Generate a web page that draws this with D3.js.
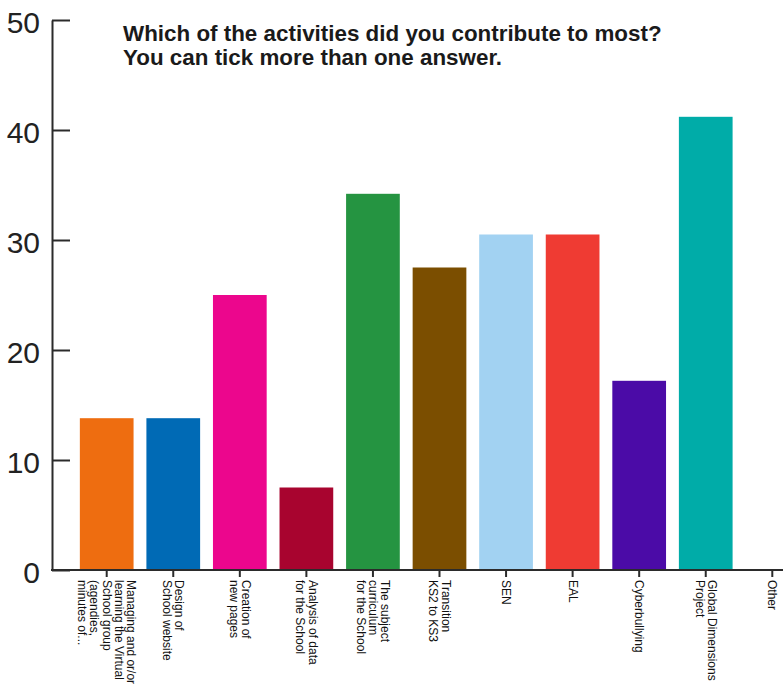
<!DOCTYPE html>
<html>
<head>
<meta charset="utf-8">
<script src="https://cdn.jsdelivr.net/npm/d3@7"></script>
<style>
    body { margin: 0; background: #fff; }
    svg { display: block; }
</style>
</head>
<body>
<div id="chart"></div>
<script>
// Categories, wrapped the way the labels are shown under the axis
var categories = [
    "Managing and or/or learning the Virtual School group (agendies, minutes of...",
    "Design of School website",
    "Creation of new pages",
    "Analysis of data for the School",
    "The subject curriculum for the School",
    "Transition KS2 to KS3",
    "SEN",
    "EAL",
    "Cyberbullying",
    "Global Dimensions Project",
    "Other"
];
var labelLines = [
    ["Managing and or/or", "learning the Virtual", "School group", "(agendies,", "minutes of..."],
    ["Design of", "School website"],
    ["Creation of", "new pages"],
    ["Analysis of data", "for the School"],
    ["The subject", "curriculum", "for the School"],
    ["Transition", "KS2 to KS3"],
    ["SEN"],
    ["EAL"],
    ["Cyberbullying"],
    ["Global Dimensions", "Project"],
    ["Other"]
];
var values = [13.8, 13.8, 25.0, 7.5, 34.2, 27.5, 30.5, 30.5, 17.2, 41.2, 0];
var barColors = ["#ee6d10", "#006ab5", "#ec068d", "#a8042f", "#259441", "#7b4e00",
                 "#a2d2f2", "#ef3b33", "#4b0ba7", "#00aca8", "#888888"];
var yTicks = [0, 10, 20, 30, 40, 50];
var titleLines = ["Which of the activities did you contribute to most?",
                  "You can tick more than one answer."];

function init() {
    var w = 783;
    var h = 686;
    var axisX = 52;
    var baseY = 570;

    var svg = d3.select("#chart")
        .append("svg")
        .attr("width", w)
        .attr("height", h);

    var xScale = d3.scaleBand()
        .domain(categories)
        .range([67, 812])
        .paddingInner(0.193)
        .paddingOuter(0.193);

    var yScale = d3.scaleLinear()
        .domain([0, 50])
        .range([baseY, 20]);

    // bars
    svg.selectAll("rect.bar")
        .data(values)
        .enter()
        .append("rect")
        .attr("class", "bar")
        .attr("x", function(d, i) { return xScale(categories[i]); })
        .attr("y", function(d) { return yScale(d); })
        .attr("width", xScale.bandwidth())
        .attr("height", function(d) { return baseY - yScale(d); })
        .attr("fill", function(d, i) { return barColors[i]; });

    // y axis
    var yAxis = d3.axisLeft(yScale)
        .tickValues(yTicks)
        .tickSize(-18)
        .tickPadding(12)
        .tickSizeOuter(0);
    var gy = svg.append("g")
        .attr("class", "y axis")
        .attr("transform", "translate(" + axisX + ",0)")
        .call(yAxis);
    gy.select(".domain").attr("stroke", "#2b2b2b").attr("stroke-width", 2);
    gy.selectAll(".tick line").attr("stroke", "#2b2b2b").attr("stroke-width", 2);
    gy.selectAll(".tick text")
        .attr("font-family", "'Liberation Sans', Arial, sans-serif")
        .attr("font-size", "30px")
        .attr("fill", "#222")
        .attr("dy", "0.42em");

    // x axis (ticks only, the base line is drawn to the edge)
    var xAxis = d3.axisBottom(xScale)
        .tickSize(7)
        .tickFormat("");
    var gx = svg.append("g")
        .attr("class", "x axis")
        .attr("transform", "translate(0," + baseY + ")")
        .call(xAxis);
    gx.select(".domain").remove();
    gx.selectAll(".tick line").attr("stroke", "#2b2b2b").attr("stroke-width", 2);

    svg.append("line")
        .attr("x1", axisX - 1)
        .attr("x2", w)
        .attr("y1", baseY)
        .attr("y2", baseY)
        .attr("stroke", "#2b2b2b")
        .attr("stroke-width", 2);

    // rotated, multi-line category labels
    var lineH = 12.3;
    var labels = svg.selectAll("text.xlabel")
        .data(labelLines)
        .enter()
        .append("text")
        .attr("class", "xlabel")
        .attr("transform", function(d, i) {
            var cx = xScale(categories[i]) + xScale.bandwidth() / 2;
            return "translate(" + cx + "," + (baseY + 10) + ") rotate(90)";
        })
        .attr("font-family", "'Liberation Sans', Arial, sans-serif")
        .attr("font-size", "12px")
        .attr("fill", "#111");

    labels.each(function(lines) {
        var t = d3.select(this);
        var n = lines.length;
        lines.forEach(function(line, j) {
            t.append("tspan")
                .attr("x", 0)
                .attr("y", (j - (n - 1) / 2) * lineH + 4)
                .text(line);
        });
    });

    // title
    svg.append("text")
        .attr("x", 123)
        .attr("y", 41)
        .attr("font-family", "'Liberation Sans', Arial, sans-serif")
        .attr("font-weight", "bold")
        .attr("font-size", "22.4px")
        .attr("fill", "#1a1a1a")
        .selectAll("tspan")
        .data(titleLines)
        .enter()
        .append("tspan")
        .attr("x", 123)
        .attr("dy", function(d, i) { return i === 0 ? 0 : 24; })
        .text(function(d) { return d; });
}

window.onload = init;
</script>
</body>
</html>
